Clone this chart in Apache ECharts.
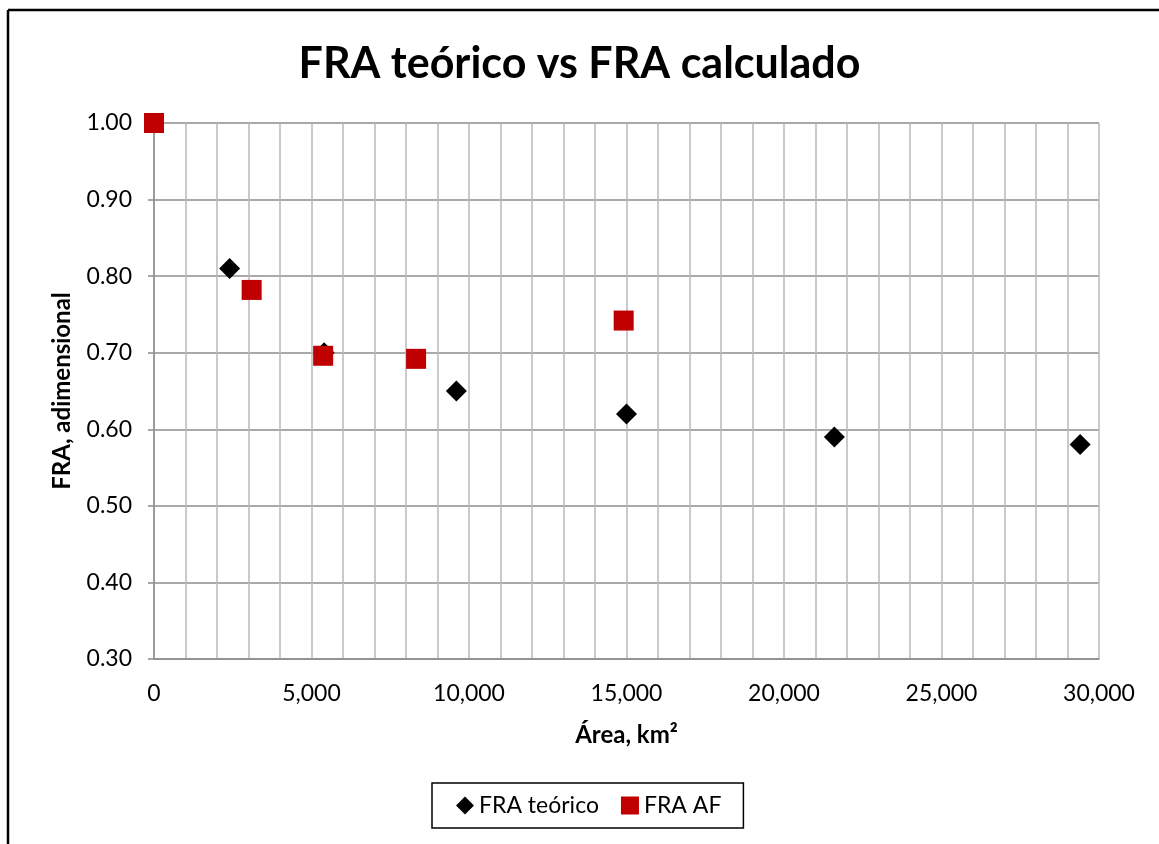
<!DOCTYPE html>
<html>
<head>
<meta charset="utf-8">
<script src="https://cdn.jsdelivr.net/npm/echarts@6/dist/echarts.min.js"></script>
<style>
  html, body { margin: 0; padding: 0; background: #fff; }
  #chart { width: 1159px; height: 844px; }
</style>
</head>
<body>
<div id="chart"></div>
<script>
// FRA teórico: area (km²) and reduction factor
const teoricoArea = [2400, 5400, 9600, 15000, 21600, 29400];
const teoricoFRA  = [0.81, 0.70, 0.65, 0.62, 0.59, 0.58];

// FRA AF: area (km²) and computed reduction factor
const afArea = [0, 3100, 5370, 8320, 14910];
const afFRA  = [1.00, 0.782, 0.696, 0.692, 0.742];

const seriesNames = ['FRA teórico', 'FRA AF'];

const FONT = 'Lato, "Open Sans", sans-serif';

const chart = echarts.init(document.getElementById('chart'), null, { renderer: 'canvas' });

const pairs = (xs, ys) => xs.map((x, i) => [x, ys[i]]);

chart.setOption({
  backgroundColor: '#ffffff',
  animation: false,
  title: {
    text: 'FRA teórico vs FRA calculado',
    left: 'center',
    top: 38,
    padding: [5, 0, 5, 16],
    textStyle: { fontFamily: FONT, fontWeight: 'bold', fontSize: 43, color: '#000' }
  },
  grid: { left: 154, right: 60, top: 123, bottom: 185 },
  legend: {
    left: 432,
    top: 783,
    data: [
      { name: seriesNames[0], icon: 'diamond' },
      { name: seriesNames[1], icon: 'rect' }
    ],
    itemWidth: 18,
    itemHeight: 18,
    itemGap: 22,
    padding: [11, 22, 11, 24],
    borderColor: '#000',
    borderWidth: 1.5,
    textStyle: { fontFamily: FONT, fontSize: 23, color: '#000' }
  },
  xAxis: {
    type: 'value',
    min: 0,
    max: 30000,
    interval: 1000,
    name: 'Área, km²',
    nameLocation: 'middle',
    nameGap: 64,
    nameTextStyle: { fontFamily: FONT, fontWeight: 'bold', fontSize: 24, color: '#000' },
    axisLine: { show: true, lineStyle: { color: '#8c8c8c', width: 1.5 } },
    axisTick: { show: false },
    splitLine: { show: true, lineStyle: { color: '#b8b8b8', width: 1.5 } },
    axisLabel: {
      margin: 23,
      fontFamily: FONT, fontSize: 23, color: '#000',
      formatter: v => (v % 5000 === 0 ? v.toLocaleString('en-US') : '')
    }
  },
  yAxis: {
    type: 'value',
    min: 0.3,
    max: 1.0,
    interval: 0.1,
    name: 'FRA, adimensional',
    nameLocation: 'middle',
    nameGap: 80,
    nameTextStyle: { fontFamily: FONT, fontWeight: 'bold', fontSize: 24, color: '#000' },
    axisLine: { show: true, lineStyle: { color: '#8c8c8c', width: 1.5 } },
    axisTick: { show: true, length: 6, lineStyle: { color: '#8c8c8c', width: 1.5 } },
    splitLine: { show: true, lineStyle: { color: '#8c8c8c', width: 1.5 } },
    axisLabel: {
      margin: 22,
      fontFamily: FONT, fontSize: 23, color: '#000',
      formatter: v => v.toFixed(2)
    }
  },
  series: [
    {
      name: seriesNames[0],
      type: 'scatter',
      symbol: 'diamond',
      symbolSize: [21, 21],
      itemStyle: { color: '#000000', opacity: 1 },
      data: pairs(teoricoArea, teoricoFRA),
      z: 2
    },
    {
      name: seriesNames[1],
      type: 'scatter',
      symbol: 'rect',
      symbolSize: [20, 20],
      itemStyle: { color: '#c00000', opacity: 1 },
      data: pairs(afArea, afFRA),
      z: 3
    }
  ],
  graphic: [
    // outer frame (left and top edges)
    { type: 'line', shape: { x1: 8, y1: 10, x2: 8, y2: 844 }, style: { stroke: '#000', lineWidth: 2.5 } },
    { type: 'line', shape: { x1: 8, y1: 10, x2: 1159, y2: 10 }, style: { stroke: '#000', lineWidth: 2.5 } }
  ]
});
</script>
</body>
</html>
